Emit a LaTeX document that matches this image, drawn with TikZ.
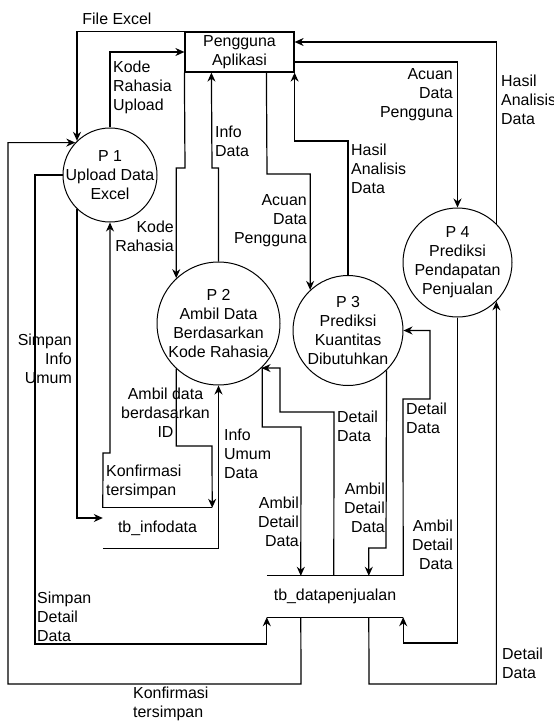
\documentclass[tikz,border=0pt]{standalone}
\usepackage{fontspec}
\setmainfont{Liberation Sans}
\usetikzlibrary{calc,arrows.meta}
\tikzset{
	proc/.style={circle,draw,line width=1bp,minimum size=#1,inner sep=0pt},
	ent/.style={rectangle,draw,line width=1.2bp,minimum width=109bp,minimum height=40bp,inner sep=0pt},
	store/.style={rectangle,inner sep=0pt},
	txt/.style={font=\fontsize{16}{19}\selectfont,inner sep=0pt,align=center},
	lbl/.style={font=\fontsize{16}{19}\selectfont,inner sep=0pt},
	flow/.style={line width=1.2bp,-{Stealth[length=9bp,width=8bp]}}
}

\begin{document}
\begin{tikzpicture}[x=1bp,y=-1bp]
				\fill[white] (0,0) rectangle (554,725);
				\useasboundingbox (0,0) rectangle (554,725);
				
				\node[ent,txt] (user) at (239.5,52) {Pengguna\\Aplikasi};
				
				\node[proc=94bp] (P1) at (110,175) {};
				\node[txt] (P1t) at (P1) {P 1\\Upload Data\\Excel};
				\node[proc=123bp] (P2) at (218.5,323.5) {};
				\node[txt] (P2t) at (P2) {P 2\\Ambil Data\\Berdasarkan\\Kode Rahasia};
				\node[proc=110bp] (P3) at (348,330.5) {};
				\node[txt] (P3t) at (P3) {P 3\\Prediksi\\Kuantitas\\Dibutuhkan};
				\node[proc=109bp] (P4) at (457.5,262.5) {};
				\node[txt] (P4t) at (P4) {P 4\\Prediksi\\Pendapatan\\Penjualan};
				
				\node[store,txt,minimum width=109bp,minimum height=40bp] (tbinfo) at (157.5,528) {tb\_infodata};
				\draw[line width=1.2bp] (tbinfo.north west) -- (tbinfo.north east);
				\draw[line width=1.2bp] (tbinfo.south west) -- (tbinfo.south east);
				\node[store,txt,minimum width=136bp,minimum height=41bp] (tbdp) at (335,596.5) {tb\_datapenjualan};
				\draw[line width=1.2bp] (tbdp.north west) -- (tbdp.north east);
				\draw[line width=1.2bp] (tbdp.south west) -- (tbdp.south east);
				
				\draw[flow] (user.north west) -| (P1.134.6);
				\draw[flow] (P1.north) |- (user.west);
				\draw[flow] (user.south west) -- (185,168) -| (P2.133.7);
				\draw[flow] (P2.north) |- (212,168) -- ($(user.south west)+(27,0)$);
				\draw[flow] ($(user.south west)+(82,0)$) -- (267,174) -| (P3.133.7);
				\draw[flow] (P3.north) -- (348,141) -| (user.south east);
				\draw[flow] ($(user.east)+(0,10)$) -| (P4.north);
				\draw[flow] (P4.45) |- ($(user.east)+(0,-10)$);
				\draw[flow] ($(tbdp.south west)+(102,0)$) -- (369,684) -| (P4.-45);
				\draw[flow] (P4.south) -- (457.5,643) -| (tbdp.south east);
				\draw[flow] (tbdp.north east) -- (403,399) -- (430,399) |- (P3.east);
				\draw[flow] (P3.-46.3) -- (386,548) -| ($(tbdp.north west)+(102,0)$);
				\draw[flow] ($(tbdp.north west)+(67,0)$) -- (334,412) -| (280,368) -- (P2.-46.4);
				\draw[flow] (P2.-45) |- (301,427) -- ($(tbdp.north west)+(34,0)$);
				\draw[flow] (P2.-133.7) |- (212,446) -- (tbinfo.north east);
				\draw[flow] (tbinfo.south east) -| (P2.south);
				\draw[flow] (tbinfo.north west) -- (103,453) -| (P1.south);
				\draw[flow] (P1.-134.6) |- ($(tbinfo.west)+(0,-10)$);
				\draw[flow] (P1.west) -| (35,644) -| (tbdp.south west);
				\draw[flow] ($(tbdp.south west)+(34,0)$) -- (301,684) -- (8,684) |- (P1.137);
				
				\node[lbl] (lFile) at (117,19) {File Excel};
				\node[lbl,align=left,anchor=west] (lKodeUp) at (113,87) {Kode\\Rahasia\\Upload};
				\node[lbl,align=right,anchor=east] (lKode) at (174,236.5) {Kode\\Rahasia};
				\node[lbl,align=left,anchor=west] (lInfo) at (215,141.5) {Info\\Data};
				\node[lbl,align=right,anchor=east] (lAcuan3) at (307,221) {Acuan\\Data\\Pengguna};
				\node[lbl,align=left,anchor=west] (lHasil3) at (351,168.5) {Hasil\\Analisis\\Data};
				\node[lbl,align=right,anchor=east] (lAcuan4) at (453,95) {Acuan\\Data\\Pengguna};
				\node[lbl,align=left,anchor=west] (lHasil4) at (501,100) {Hasil\\Analisis\\Data};
				\node[lbl,align=left,anchor=west] (lDetail4) at (502,663.5) {Detail\\Data};
				\node[lbl,align=right,anchor=east] (lAmbil4) at (453,545) {Ambil\\Detail\\Data};
				\node[lbl,align=left,anchor=west] (lDetail3) at (406,418.5) {Detail\\Data};
				\node[lbl,align=right,anchor=east] (lAmbil3) at (385,508) {Ambil\\Detail\\Data};
				\node[lbl,align=left,anchor=west] (lDetail2) at (337,426.5) {Detail\\Data};
				\node[lbl,align=right,anchor=east] (lAmbil2) at (299,522) {Ambil\\Detail\\Data};
				\node[lbl,align=center] (lAmbilID) at (165.5,412.5) {Ambil data\\berdasarkan\\ID};
				\node[lbl,align=left,anchor=west] (lUmum) at (224,454) {Info\\Umum\\Data};
				\node[lbl,align=left,anchor=west] (lKonf1) at (106,481.5) {Konfirmasi\\tersimpan};
				\node[lbl,align=right,anchor=east] (lSimpanInfo) at (72,359) {Simpan\\Info\\Umum};
				\node[lbl,align=left,anchor=west] (lSimpanDetail) at (37,617) {Simpan\\Detail\\Data};
				\node[lbl,align=left,anchor=west] (lKonf2) at (133,703.5) {Konfirmasi\\tersimpan};
			\end{tikzpicture}
\end{document}
